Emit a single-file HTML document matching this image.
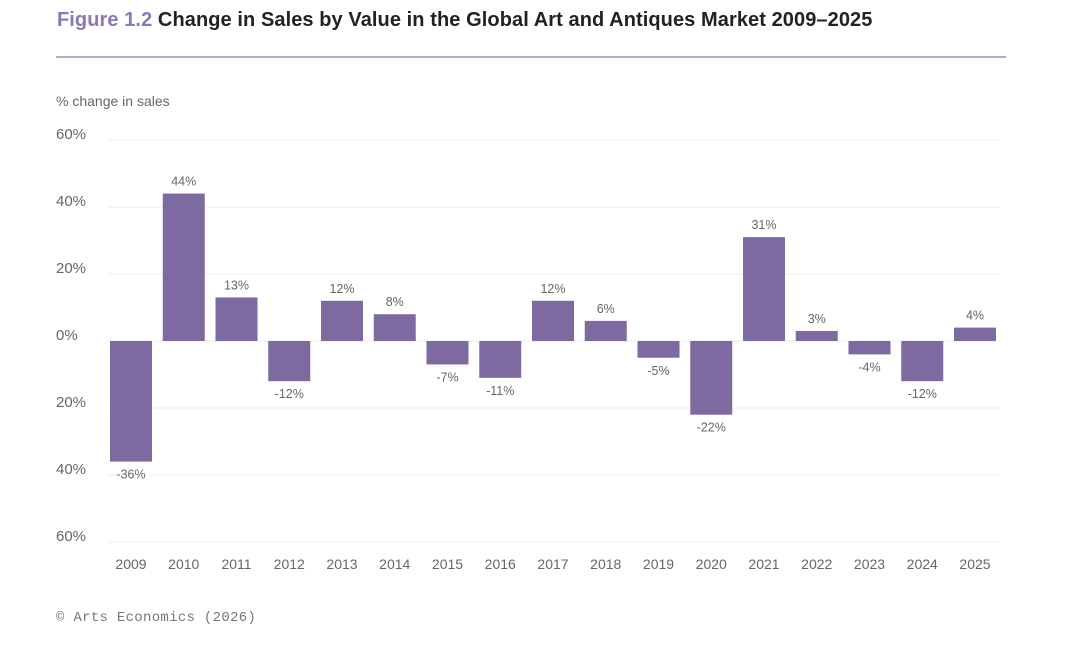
<!DOCTYPE html>
<html><head><meta charset="utf-8"><style>
body{margin:0;background:#fff;width:1080px;height:646px;overflow:hidden;font-family:"Liberation Sans",sans-serif}
#title{position:absolute;left:57px;top:9px;font-size:20px;font-weight:bold;color:#222;white-space:nowrap;letter-spacing:0.08px}
#title span{color:#8a78b0}
#rule{position:absolute;left:56px;top:56px;width:950px;height:2px;background:#b6aacb}
#foot{position:absolute;left:56px;top:610px;font-family:"Liberation Mono",monospace;font-size:14px;color:#777;letter-spacing:0.3px}
</style></head><body>
<div id="title"><span>Figure 1.2</span> Change in Sales by Value in the Global Art and Antiques Market 2009–2025</div>
<div id="rule"></div>
<svg id="chart" width="1080" height="646" style="position:absolute;left:0;top:0"></svg>
<div id="foot">© Arts Economics (2026)</div>
<script>
const years=["2009","2010","2011","2012","2013","2014","2015","2016","2017","2018","2019","2020","2021","2022","2023","2024","2025"];
const values=[-36,44,13,-12,12,8,-7,-11,12,6,-5,-22,31,3,-4,-12,4];
const ticks=[60,40,20,0,-20,-40,-60];
const tickLabels=["60%","40%","20%","0%","20%","40%","60%"];
const NS="http://www.w3.org/2000/svg";
const svg=document.getElementById('chart');
const y=v=>341-v*3.35;
const x=i=>131+i*52.75;
function mk(t,a){const e=document.createElementNS(NS,t);for(const k in a)e.setAttribute(k,a[k]);svg.appendChild(e);return e;}
const yl=mk('text',{x:56,y:106,'font-size':14,fill:'#666'});yl.textContent='% change in sales';


ticks.forEach((t,i)=>{
  const g=mk('line',{x1:108,x2:1000,y1:y(t),y2:y(t),stroke:'#eeeeee','stroke-width':1});
  
  
  const l=mk('text',{x:56,y:y(t)-1,'font-size':15,fill:'#666'});l.textContent=tickLabels[i];
  
  
});
years.forEach((yr,i)=>{
  const v=values[i];const top=Math.min(y(v),y(0));const h=Math.abs(y(v)-y(0));
  const r=mk('rect',{x:x(i)-21,y:top,width:42,height:h,fill:'#7d6aa1'});
  
  
  const vl=mk('text',{x:x(i),y:v>=0?y(v)-8:y(v)+17,'font-size':12.5,fill:'#666','text-anchor':'middle'});
  vl.textContent=v+'%';
  
  
  const xl=mk('text',{x:x(i),y:569,'font-size':14,fill:'#666','text-anchor':'middle'});xl.textContent=yr;
  
  
});
</script>
</body></html>
